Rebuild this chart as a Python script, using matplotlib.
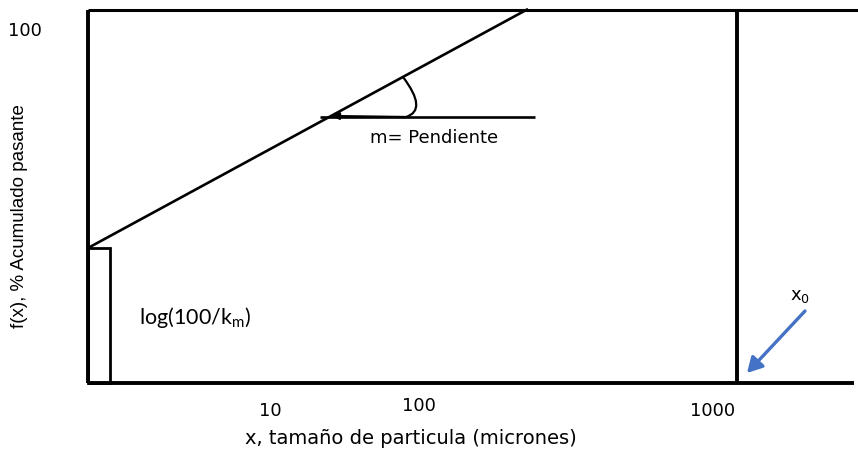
import matplotlib
matplotlib.use("Agg")
import matplotlib.pyplot as plt
from matplotlib.path import Path
from matplotlib.patches import FancyArrowPatch, Rectangle

W, H = 858, 453

# Schematic drawn on a pixel-like canvas (y grows downward)
frame_left = [[88, 10], [88, 383]]
frame_top = [[88, 10], [858, 10]]
frame_bottom = [[88, 383], [854, 383]]
x0_line = [[737, 10], [737, 383]]

# Gaudin-Schuhmann straight line and its horizontal reference
slope_line = [[88, 248], [528, 9]]
horizontal_ref = [[320, 117], [535, 117]]

# Small box marking log(100/km) at the origin
intercept_box = [88, 248, 110, 383]  # x0, y_top, x1, y_bottom

# Angle marker: start on slope line, control, join on horizontal, arrow tip
angle_pts = [(403, 77), (428, 110), (406, 117), (332, 116)]

# x0 pointer
x0_arrow = [(805, 311), (747, 373)]

x_tick_labels = ["10", "100", "1000"]
x_tick_pos = [(270, 411), (419, 406), (713, 411)]

fig = plt.figure(figsize=(W / 100, H / 100), dpi=100)
ax = fig.add_axes([0, 0, 1, 1])
ax.set_xlim(0, W)
ax.set_ylim(H, 0)
ax.axis("off")

def seg(pts, lw):
    (xa, ya), (xb, yb) = pts
    ax.plot([xa, xb], [ya, yb], color="black", lw=lw, solid_capstyle="butt")

seg(frame_left, 2.8)
seg(frame_top, 2.2)
seg(frame_bottom, 2.8)
seg(x0_line, 2.8)
seg(slope_line, 1.9)
seg(horizontal_ref, 1.9)

bx0, by0, bx1, by1 = intercept_box
ax.add_patch(Rectangle((bx0, by0), bx1 - bx0, by1 - by0, fill=False,
                       edgecolor="black", lw=2.0))

p0, c1, p1, p2 = angle_pts
angle_path = Path([p0, c1, p1, p2],
                  [Path.MOVETO, Path.CURVE3, Path.CURVE3, Path.LINETO])
ax.add_patch(FancyArrowPatch(path=angle_path, arrowstyle="-|>,head_length=4,head_width=2",
                             color="black", lw=1.6))

ax.add_patch(FancyArrowPatch(x0_arrow[0], x0_arrow[1],
                             arrowstyle="-|>,head_length=9,head_width=5",
                             color="#4472C4", lw=2.4, shrinkA=0, shrinkB=0))

txt = dict(color="black", family="DejaVu Sans")
ax.text(25, 31, "100", fontsize=13, ha="center", va="center", **txt)
for lab, (tx, ty) in zip(x_tick_labels, x_tick_pos):
    ax.text(tx, ty, lab, fontsize=13, ha="center", va="center", **txt)
ax.text(411, 438, "x, tamaño de particula (micrones)", fontsize=14,
        ha="center", va="center", **txt)
ax.text(434, 138, "m= Pendiente", fontsize=13, ha="center", va="center", **txt)
ax.text(800, 296, r"x$\mathregular{_0}$", fontsize=13, ha="center", va="center", **txt)
ax.text(195, 317, r"log(100/k$\mathregular{_m}$)", fontsize=15.5, ha="center",
        va="center", color="black", family="Lato")
ax.text(20, 216, "f(x), % Acumulado pasante", fontsize=13.5, rotation=90,
        ha="center", va="center", color="black", family="Liberation Sans")

fig.savefig("out.png", dpi=100)
